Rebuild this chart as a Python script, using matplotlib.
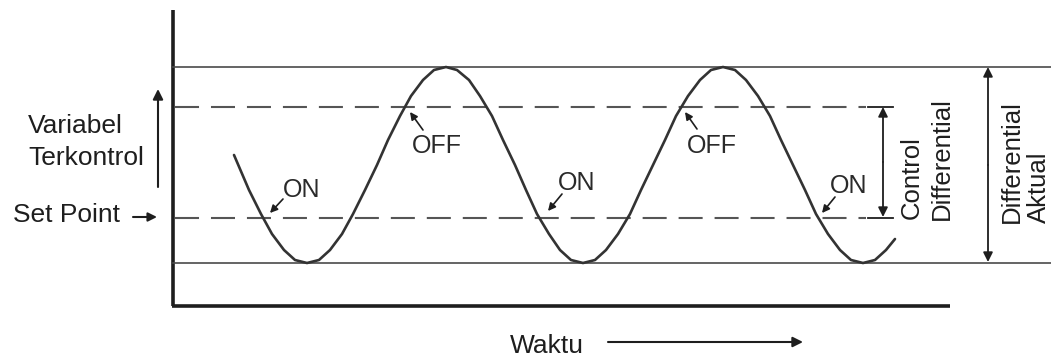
import matplotlib.pyplot as plt

plt.rcParams['font.family'] = ['Liberation Sans', 'DejaVu Sans']
plt.rcParams['lines.scale_dashes'] = False

# levels (pixel rows of the picture, y grows downward)
y_top, y_off, y_set, y_bottom = 67, 107, 218, 263

# controlled variable
wave_x = [234, 249, 261, 272, 284, 295,
          307, 319, 330, 342, 353, 365, 377, 388, 400, 411, 423, 434,
          446, 457, 469, 480, 492, 503, 515, 526, 537, 549, 560, 571,
          583, 595, 606, 618, 630, 641, 653, 665, 676, 688, 700, 711,
          723, 735, 746, 758, 770, 781, 793, 805, 816, 828, 840, 851,
          863, 875, 886, 895]
wave_y = [155, 190, 214, 234, 250, 260,
          263, 260, 250, 234, 214, 190, 165, 140, 116, 96, 80, 70,
          67, 70, 80, 96, 116, 140, 165, 190, 214, 234, 250, 260,
          263, 260, 250, 234, 214, 190, 165, 140, 116, 96, 80, 70,
          67, 70, 80, 96, 116, 140, 165, 190, 214, 234, 250, 260,
          263, 260, 250, 239]

# switching labels: (text, text x, baseline y, arrow tail, arrow tip)
switch_labels = [
    ('ON', 283, 197, (283, 199), (270, 213)),
    ('OFF', 412, 153, (423, 130), (410, 112)),
    ('ON', 558, 190, (562, 194), (548, 211)),
    ('OFF', 687, 153, (697, 129), (685, 112)),
    ('ON', 830, 193, (835, 197), (822, 213)),
]

fig = plt.figure(figsize=(10.51, 3.56), dpi=100)
ax = fig.add_axes([0, 0, 1, 1])
ax.set_xlim(0, 1051)
ax.set_ylim(356, 0)
ax.axis('off')

dark = '#1e1e1e'
gray = '#4a4a4a'

# axes
ax.plot([173, 173], [10, 306], color=dark, lw=2.6, solid_capstyle='butt')
ax.plot([172, 950], [306, 306], color=dark, lw=2.6, solid_capstyle='butt')

# limits of the actual swing
ax.plot([173, 1051], [y_top, y_top], color=gray, lw=1.2)
ax.plot([173, 1051], [y_bottom, y_bottom], color=gray, lw=1.2)

# switching levels
for yl in (y_off, y_set):
    ax.plot([175, 866], [yl, yl], color='#555555', lw=1.5,
            dashes=(17.3, 8.6), solid_capstyle='butt')
    ax.plot([868, 893], [yl, yl], color=dark, lw=1.3)

# wave
ax.plot(wave_x, wave_y, color='#333333', lw=1.9, solid_capstyle='round')

def arrow(tail, tip, style='-|>', ms=14, lw=1.5):
    ax.annotate('', xy=tip, xytext=tail,
                arrowprops=dict(arrowstyle=style, color=dark, lw=lw,
                                mutation_scale=ms, shrinkA=0, shrinkB=0))

for txt, tx, ty, tail, tip in switch_labels:
    ax.text(tx, ty, txt, fontsize=18, color='#2a2a2a',
            ha='left', va='baseline')
    arrow(tail, tip, ms=11, lw=1.2)

# left labels
ax.text(28, 133, 'Variabel', fontsize=19, color=dark, ha='left', va='baseline')
ax.text(28, 165, 'Terkontrol', fontsize=19, color=dark, ha='left', va='baseline')
ax.text(13, 222, 'Set Point', fontsize=19, color=dark, ha='left', va='baseline')
arrow((158, 187), (158, 89), ms=15, lw=1.5)
arrow((133, 217), (157, 217), ms=13, lw=1.5)

# time axis label
ax.text(510, 353, 'Waktu', fontsize=19, color=dark, ha='left', va='baseline')
arrow((608, 342), (803, 342), ms=15, lw=1.5)

# differentials on the right
arrow((883, 162), (883, y_off), ms=14, lw=1.3)
arrow((883, 162), (883, y_set - 1), ms=14, lw=1.3)
arrow((988, 165), (988, y_top), ms=14, lw=1.3)
arrow((988, 165), (988, y_bottom - 1), ms=14, lw=1.3)

ax.text(912, 219, 'Control', fontsize=18.5, color=dark, rotation=90,
        ha='center', va='bottom')
ax.text(942, 220, 'Differential', fontsize=18.5, color=dark, rotation=90,
        ha='center', va='bottom')
ax.text(1012, 223, 'Differential', fontsize=18.5, color=dark, rotation=90,
        ha='center', va='bottom')
ax.text(1039, 223, 'Aktual', fontsize=18.5, color=dark, rotation=90,
        ha='center', va='bottom')

fig.savefig('out.png', dpi=100, facecolor='white')
